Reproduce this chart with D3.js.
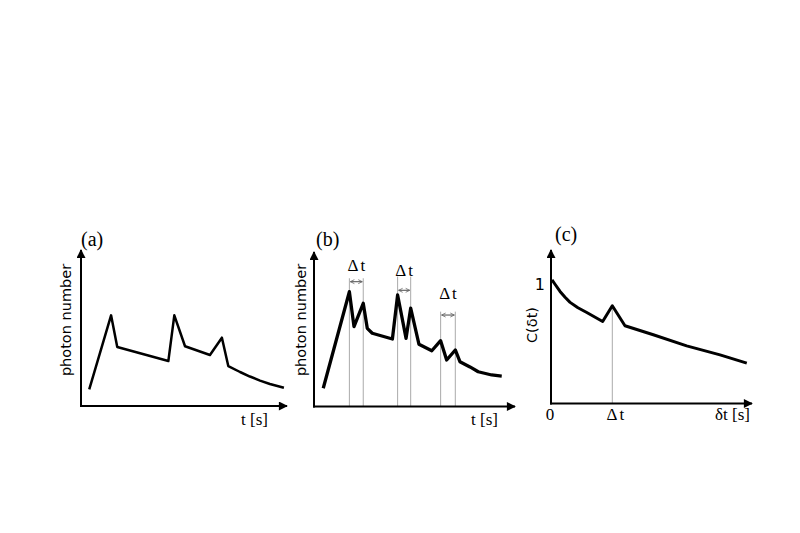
<!DOCTYPE html>
<html>
<head>
<meta charset="utf-8">
<script src="https://cdn.jsdelivr.net/npm/d3@7"></script>
<style>
  body { margin: 0; background: #fff; }
  svg { display: block; }
</style>
</head>
<body>
<svg id="svg" width="800" height="533"></svg>
<script>
// Panel (a): single trace, time vs photon number
const aTime   = [4.0, 14.6, 17.6, 42.4, 45.3, 50.5, 62.6, 68.4, 71.5, 77.2, 82.0, 86.9, 91.7, 98.5];
const aPhoton = [10.7, 58.1, 37.8, 28.8, 58.1, 38.3, 32.7, 43.8, 25.6, 21.8, 18.9, 16.3, 14.1, 11.7];

// Panel (b): trace with repeated peaks
const bTime   = [4.6, 17.6, 19.9, 24.5, 26.5, 29.0, 39.0, 41.6, 45.8, 48.1, 52.2, 58.6, 63.0, 66.0, 70.3, 72.6, 77.6, 81.7, 88.4, 93.4];
const bPhoton = [11.8, 74.3, 51.7, 66.8, 50.6, 47.4, 43.7, 72.2, 44.1, 63.6, 40.3, 36.1, 42.6, 30.1, 36.6, 29.0, 25.6, 22.5, 20.4, 19.7];
// delta-t pairs (start, end), top of guide lines, arrow level, label level
const bPairStart = [17.6, 41.6, 63.0];
const bPairEnd   = [24.5, 48.1, 70.3];
const bGuideTop  = [83.0, 84.1, 61.4];
const bArrowAt   = [80.8, 75.2, 59.2];
const bLabelAt   = [87.5, 84.5, 69.5];

// Panel (c): correlation function
const cDelay = [0.5, 2.0, 4.5, 7.0, 9.5, 13.4, 17.8, 25.7, 30.5, 36.8, 50.9, 67.5, 84.1, 97.4];
const cCorr  = [1.015, 0.979, 0.92, 0.872, 0.83, 0.786, 0.747, 0.673, 0.802, 0.638, 0.564, 0.473, 0.399, 0.331];
const cDeltaT = 30.5;
const cTicks = ["0", "Δt"];

const svg = d3.select("#svg");
const serif = "'Liberation Serif', 'DejaVu Serif', serif";
const sans = "'DejaVu Sans', 'Liberation Sans', sans-serif";

// arrowheads
const defs = svg.append("defs");
defs.append("marker")
    .attr("id", "axisArrow")
    .attr("viewBox", "0 0 10 10")
    .attr("refX", 9).attr("refY", 5)
    .attr("markerWidth", 10).attr("markerHeight", 9)
    .attr("markerUnits", "userSpaceOnUse")
    .attr("orient", "auto")
  .append("path")
    .attr("d", "M0,0 L10,5 L0,10 Z")
    .attr("fill", "#000");
defs.append("marker")
    .attr("id", "smallArrow")
    .attr("viewBox", "0 0 10 10")
    .attr("refX", 9).attr("refY", 5)
    .attr("markerWidth", 5).attr("markerHeight", 6)
    .attr("markerUnits", "userSpaceOnUse")
    .attr("orient", "auto-start-reverse")
  .append("path")
    .attr("d", "M1,1 L9,5 L1,9")
    .attr("fill", "none")
    .attr("stroke", "#666")
    .attr("stroke-width", 1.6);

function drawAxes(x, y) {
    const [x0, x1] = x.range();
    const [y0, y1] = y.range();
    svg.append("line")
        .attr("x1", x0).attr("y1", y0 + 1).attr("x2", x0).attr("y2", y1)
        .attr("stroke", "#000").attr("stroke-width", 2)
        .attr("marker-end", "url(#axisArrow)");
    svg.append("line")
        .attr("x1", x0 - 1).attr("y1", y0).attr("x2", x1).attr("y2", y0)
        .attr("stroke", "#000").attr("stroke-width", 2)
        .attr("marker-end", "url(#axisArrow)");
}

function drawLabel(txt, px, py, font, size, anchor, rotate) {
    const t = svg.append("text")
        .attr("font-family", font)
        .attr("font-size", size)
        .attr("text-anchor", anchor || "start")
        .text(txt);
    if (rotate) t.attr("transform", `translate(${px},${py}) rotate(-90)`);
    else t.attr("x", px).attr("y", py);
    return t;
}

// ---------- (a) ----------
const xa = d3.scaleLinear().domain([0, 100]).range([81, 287]);
const ya = d3.scaleLinear().domain([0, 100]).range([406, 250]);
drawAxes(xa, ya);
svg.append("path")
    .datum(d3.zip(aTime, aPhoton))
    .attr("d", d3.line().x(d => xa(d[0])).y(d => ya(d[1])))
    .attr("fill", "none").attr("stroke", "#000")
    .attr("stroke-width", 2.5).attr("stroke-linejoin", "round");
drawLabel("(a)", 81, 246, serif, 20);
drawLabel("photon number", 71, 320, sans, 14.5, "middle", true);
drawLabel("t [s]", 241, 425, serif, 17);

// ---------- (b) ----------
const xb = d3.scaleLinear().domain([0, 100]).range([314, 515]);
const yb = d3.scaleLinear().domain([0, 100]).range([406.5, 252]);
const pairs = d3.range(bPairStart.length);
pairs.forEach(i => {
    [bPairStart[i], bPairEnd[i]].forEach(t => {
        svg.append("line")
            .attr("x1", xb(t)).attr("x2", xb(t))
            .attr("y1", yb(bGuideTop[i])).attr("y2", yb(0))
            .attr("stroke", "#aaa").attr("stroke-width", 1);
    });
    svg.append("line")
        .attr("x1", xb(bPairStart[i]) + 1).attr("x2", xb(bPairEnd[i]) - 1)
        .attr("y1", yb(bArrowAt[i])).attr("y2", yb(bArrowAt[i]))
        .attr("stroke", "#666").attr("stroke-width", 1.2)
        .attr("marker-start", "url(#smallArrow)")
        .attr("marker-end", "url(#smallArrow)");
    drawLabel("Δt", xb((bPairStart[i] + bPairEnd[i]) / 2) + 1, yb(bLabelAt[i]), serif, 17, "middle")
        .attr("letter-spacing", 2);
});
drawAxes(xb, yb);
svg.append("path")
    .datum(d3.zip(bTime, bPhoton))
    .attr("d", d3.line().x(d => xb(d[0])).y(d => yb(d[1])))
    .attr("fill", "none").attr("stroke", "#000")
    .attr("stroke-width", 3.3).attr("stroke-linejoin", "round");
drawLabel("(b)", 316, 246, serif, 20);
drawLabel("photon number", 306, 320, sans, 14.5, "middle", true);
drawLabel("t [s]", 471, 425, serif, 17);

// ---------- (c) ----------
const xc = d3.scaleLinear().domain([0, 100]).range([551, 752]);
const yc = d3.scaleLinear().domain([0, 1.26]).range([403.5, 250]);
svg.append("line")
    .attr("x1", xc(cDeltaT)).attr("x2", xc(cDeltaT))
    .attr("y1", yc(cCorr[cDelay.indexOf(cDeltaT)])).attr("y2", yc(0))
    .attr("stroke", "#aaa").attr("stroke-width", 1);
drawAxes(xc, yc);
svg.append("path")
    .datum(d3.zip(cDelay, cCorr))
    .attr("d", d3.line().x(d => xc(d[0])).y(d => yc(d[1])))
    .attr("fill", "none").attr("stroke", "#000")
    .attr("stroke-width", 3).attr("stroke-linejoin", "round");
// tick labels along x
[0, cDeltaT].forEach((v, i) => {
    drawLabel(cTicks[i], xc(v) + (i ? 4 : -1), 420, serif, 17, "middle")
        .attr("letter-spacing", i ? 2 : 0);
});
drawLabel("1", 545, 290, sans, 16, "end");
drawLabel("(c)", 555, 241, serif, 20);
drawLabel("C(δt)", 537, 325, sans, 14.5, "middle", true);
drawLabel("δt [s]", 715, 420, serif, 17);
</script>
</body>
</html>
